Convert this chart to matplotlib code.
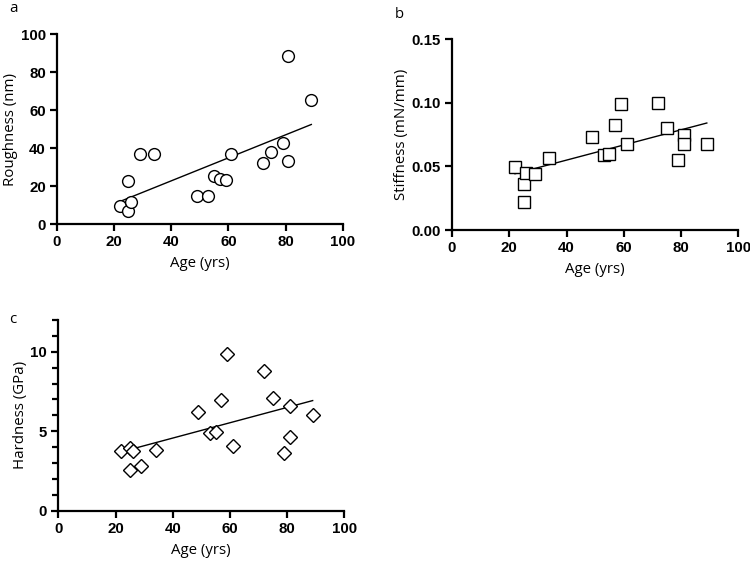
import numpy as np
from matplotlib import pyplot as plt
from matplotlib.ticker import MultipleLocator

# ages of donors (yrs)
age = [22, 25, 25, 26, 29, 34, 49, 53, 55, 57, 59, 61, 72, 75, 79, 81, 81, 89]

# panel a: roughness (nm)
roughness = [9.6, 6.7, 22.6, 11.6, 36.8, 36.7, 15.1, 14.7, 25.6, 23.7, 23.5,
             36.8, 32.1, 38.2, 42.6, 88.4, 33.0, 65.4]

# panel b: stiffness (mN/mm)
stiffness = [0.0496, 0.0359, 0.0218, 0.0451, 0.0438, 0.0569, 0.0734, 0.0590,
             0.0598, 0.0824, 0.0989, 0.0677, 0.0999, 0.0805, 0.0548, 0.0750,
             0.0679, 0.0677]

# panel c: hardness (GPa)
hardness = [3.74, 3.96, 2.56, 3.75, 2.83, 3.80, 6.23, 4.87, 4.97, 6.94, 9.87,
            4.09, 8.81, 7.07, 3.61, 6.58, 4.65, 6.04]

tick_font = dict(family='Liberation Sans', weight='bold', size=10.8)
label_font = dict(family='Open Sans', size=10.8)

fig = plt.figure(figsize=(7.5, 5.62), dpi=100)


def panel(rect, y, marker, ms, ylim, yticks, ylabel, letter, letter_pos, ticklabels=None, minor=None):
    ax = fig.add_axes(rect)
    ax.plot(age, y, linestyle='none', marker=marker, ms=ms, mfc='white',
            mec='black', mew=1.0, clip_on=False, zorder=3)
    # linear fit over the age range
    slope, icpt = np.polyfit(age, y, 1)
    xs = np.array([min(age), max(age)])
    ax.plot(xs, slope * xs + icpt, color='black', lw=1.0, zorder=2)
    ax.set_xlim(0, 100)
    ax.set_ylim(*ylim)
    ax.set_xticks([0, 20, 40, 60, 80, 100])
    ax.set_yticks(yticks)
    if ticklabels is not None:
        ax.set_yticklabels(ticklabels)
    if minor is not None:
        ax.yaxis.set_minor_locator(MultipleLocator(minor))
        ax.tick_params(axis='y', which='minor', length=4, width=1.6)
    for lab in ax.get_xticklabels() + ax.get_yticklabels():
        lab.set_fontproperties(tick_font)
        lab.set_fontweight('bold')
    ax.spines['top'].set_visible(False)
    ax.spines['right'].set_visible(False)
    for s in ('left', 'bottom'):
        ax.spines[s].set_linewidth(1.6)
    ax.tick_params(which='major', length=5, width=1.6, pad=3, color='black')
    ax.set_xlabel('Age (yrs)', labelpad=5, **label_font)
    ax.set_ylabel(ylabel, labelpad=2, **label_font)
    fig.text(letter_pos[0], letter_pos[1], letter, ha='left', va='top', **label_font)
    return ax


panel([0.076, 0.601, 0.381, 0.3385], roughness, 'o', 8.5, (0, 100),
      [0, 20, 40, 60, 80, 100], 'Roughness (nm)', 'a', (0.012, 0.998))

panel([0.6027, 0.5907, 0.3817, 0.3393], stiffness, 's', 8.0, (0, 0.15),
      [0, 0.05, 0.10, 0.15], 'Stiffness (mN/mm)', 'b', (0.527, 0.988),
      ticklabels=['0.00', '0.05', '0.10', '0.15'])

panel([0.0778, 0.0913, 0.381, 0.3393], hardness, 'D', 7.0, (0, 12),
      [0, 5, 10], 'Hardness (GPa)', 'c', (0.012, 0.445), minor=1)

fig.savefig('out.png', dpi=100)
